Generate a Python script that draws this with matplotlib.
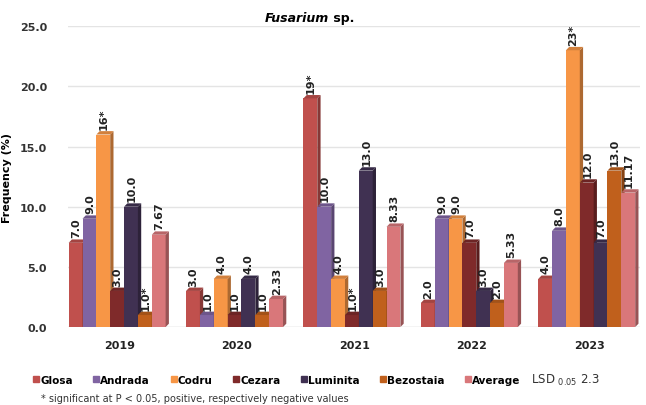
import numpy as np
import matplotlib.pyplot as plt
from matplotlib.patches import Polygon
from matplotlib.lines import Line2D
from matplotlib.colors import to_rgb

years = ["2019", "2020", "2021", "2022", "2023"]
varieties = ["Glosa", "Andrada", "Codru", "Cezara", "Luminita", "Bezostaia", "Average"]
colors = ["#C0504D", "#8064A2", "#F79646", "#7F2A2A", "#403152", "#C0601C", "#D9777A"]

glosa = [7.0, 3.0, 19.0, 2.0, 4.0]
andrada = [9.0, 1.0, 10.0, 9.0, 8.0]
codru = [16.0, 4.0, 4.0, 9.0, 23.0]
cezara = [3.0, 1.0, 1.0, 7.0, 12.0]
luminita = [10.0, 4.0, 13.0, 3.0, 7.0]
bezostaia = [1.0, 1.0, 3.0, 2.0, 13.0]
average = [7.67, 2.33, 8.33, 5.33, 11.17]

labels = [
    ["7.0", "3.0", "19*", "2.0", "4.0"],
    ["9.0", "1.0", "10.0", "9.0", "8.0"],
    ["16*", "4.0", "4.0", "9.0", "23*"],
    ["3.0", "1.0", "1.0*", "7.0", "12.0"],
    ["10.0", "4.0", "13.0", "3.0", "7.0"],
    ["1.0*", "1.0", "3.0", "2.0", "13.0"],
    ["7.67", "2.33", "8.33", "5.33", "11.17"],
]
series = [glosa, andrada, codru, cezara, luminita, bezostaia, average]


def shade(c, f):
    r, g, b = to_rgb(c)
    return (r * f, g * f, b * f)


fig = plt.figure(figsize=(6.46, 4.06), dpi=100)
ax = fig.add_axes([0.105, 0.192, 0.885, 0.741])

x = np.arange(len(years))
w = 0.118
dx, dy = 0.028, 0.28

for i, (vals, col) in enumerate(zip(series, colors)):
    xs = x + (i - 3) * w
    ax.bar(xs, vals, width=w, color=col, zorder=2 + i * 0.01, linewidth=0)
    for xi, v, lab in zip(xs, vals, labels[i]):
        right = xi + w / 2
        side = Polygon([(right, 0), (right + dx, dy), (right + dx, v + dy), (right, v)],
                       closed=True, facecolor=shade(col, 0.7), edgecolor="none", zorder=2 + i * 0.01)
        top = Polygon([(xi - w / 2, v), (xi - w / 2 + dx, v + dy), (right + dx, v + dy), (right, v)],
                      closed=True, facecolor=shade(col, 0.85), edgecolor="none", zorder=2 + i * 0.01)
        ax.add_patch(side)
        ax.add_patch(top)
        ax.text(xi + 0.005, v + 0.45, lab, rotation=90, ha="center", va="bottom",
                fontsize=8, fontweight="bold", color="#222222", zorder=5, clip_on=False)

ax.set_xlim(-0.42, 4.45)
ax.set_ylim(0, 25)
ax.set_yticks(np.arange(0, 26, 5))
ax.set_yticklabels([f"{t:.1f}" for t in np.arange(0, 26, 5)], fontsize=8,
                   fontweight="bold", color="#333333")
ax.set_xticks(x + 0.02)
ax.set_xticklabels(years, fontsize=8, fontweight="bold", color="#222222")
ax.tick_params(length=0, pad=9)
ax.tick_params(axis="y", pad=15)
ax.grid(axis="y", color="#E4E4E4", linewidth=1, zorder=0)
for s in ax.spines.values():
    s.set_visible(False)
ax.axhline(0, color="#DDDDDD", linewidth=1, zorder=1)
ax.set_ylabel("Frequency (%)", fontsize=8, fontweight="bold")
ax.yaxis.set_label_coords(-0.098, 0.5)

fig.text(0.51, 0.955, "Fusarium", fontsize=9, fontweight="bold", style="italic",
         ha="right", va="center")
fig.text(0.51, 0.955, " sp.", fontsize=9, fontweight="bold", ha="left", va="center")

handles = [Line2D([], [], marker="s", linestyle="none", markersize=4,
                  markerfacecolor=c, markeredgecolor=c) for c in colors]
fig.legend(handles, varieties, loc="center left", bbox_to_anchor=(0.05, 0.062),
           ncol=7, frameon=False, handletextpad=0.05, columnspacing=1.9,
           prop={"weight": "bold", "size": 7.5}, handlelength=0.7, borderaxespad=0,
           borderpad=0)
fig.text(0.822, 0.062, r"LSD $_{0.05}$ 2.3", fontsize=8.5, color="#333333", va="center")
fig.text(0.063, 0.018, "* significant at P < 0.05, positive, respectively negative values",
         fontsize=7, color="#333333", va="center")

fig.savefig("out.png", dpi=100)
